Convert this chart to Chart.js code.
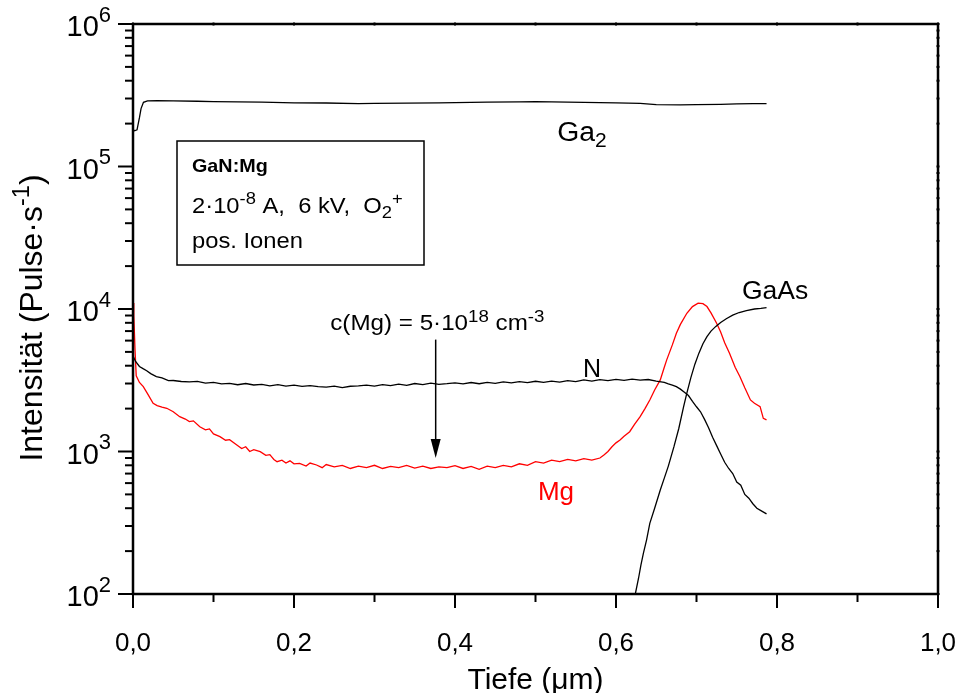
<!DOCTYPE html>
<html lang="de">
<head>
<meta charset="UTF-8" />
<title>SIMS Tiefenprofil GaN:Mg</title>
<script src="https://cdn.jsdelivr.net/npm/chart.js"></script>
<style>
  html, body { margin: 0; padding: 0; background: #fff; }
  canvas { display: block; }
</style>
</head>
<body>
<canvas id="profil" width="958" height="693"></canvas>
<script>
// Tiefe in µm, Intensität in Pulse/s
const depthGa2 = [0, 0.002, 0.005, 0.008, 0.010, 0.013, 0.018, 0.03, 0.05, 0.08, 0.10, 0.13, 0.16, 0.20, 0.24, 0.28, 0.30, 0.34, 0.38, 0.40, 0.44, 0.48, 0.50, 0.54, 0.58, 0.60, 0.63, 0.65, 0.68, 0.70, 0.73, 0.75, 0.77, 0.787];
const countsGa2 = [182000, 178000, 181000, 220000, 255000, 282000, 289000, 290000, 289000, 287000, 285000, 284000, 283000, 280000, 279000, 276000, 277000, 278000, 280000, 281000, 283000, 284000, 285000, 283000, 281000, 280000, 277000, 272000, 271000, 272000, 273000, 275000, 276000, 276000];

const depthN = [0, 0.003, 0.008, 0.013, 0.017, 0.022, 0.029, 0.036, 0.044, 0.05, 0.06, 0.07, 0.08, 0.09, 0.10, 0.11, 0.12, 0.13, 0.14, 0.15, 0.16, 0.17, 0.18, 0.19, 0.20, 0.21, 0.22, 0.23, 0.24, 0.25, 0.26, 0.27, 0.28, 0.29, 0.30, 0.31, 0.32, 0.33, 0.34, 0.35, 0.36, 0.37, 0.38, 0.39, 0.40, 0.41, 0.42, 0.43, 0.44, 0.45, 0.46, 0.47, 0.48, 0.49, 0.50, 0.51, 0.52, 0.53, 0.54, 0.55, 0.56, 0.57, 0.58, 0.59, 0.60, 0.61, 0.62, 0.63, 0.64, 0.65, 0.66, 0.665, 0.67, 0.675, 0.68, 0.685, 0.69, 0.695, 0.70, 0.705, 0.71, 0.715, 0.72, 0.725, 0.73, 0.735, 0.74, 0.745, 0.75, 0.755, 0.76, 0.765, 0.77, 0.775, 0.78, 0.787];
const countsN = [4700, 4300, 3950, 3800, 3690, 3520, 3350, 3280, 3140, 3150, 3100, 3080, 3110, 3020, 3060, 2980, 3010, 2940, 3000, 2930, 2960, 2890, 2950, 2880, 2920, 2860, 2900, 2850, 2830, 2880, 2810, 2870, 2890, 2920, 2880, 2950, 2900, 2970, 2910, 3000, 2950, 3020, 2960, 2990, 3030, 2980, 3050, 2990, 3060, 3010, 3080, 3030, 3090, 3040, 3110, 3060, 3120, 3070, 3140, 3090, 3180, 3120, 3190, 3140, 3210, 3160, 3220, 3170, 3200, 3120, 3060, 2980, 2920, 2850, 2740, 2600, 2470, 2250, 2060, 1900, 1680, 1470, 1260, 1100, 960, 840, 760, 700, 610, 580, 500, 470, 430, 400, 385, 365];

const depthMg = [0, 0.001, 0.0025, 0.004, 0.008, 0.0128, 0.018, 0.025, 0.03, 0.036, 0.042, 0.05, 0.058, 0.065, 0.07, 0.075, 0.083, 0.09, 0.095, 0.10, 0.108, 0.115, 0.12, 0.129, 0.135, 0.14, 0.145, 0.15, 0.158, 0.165, 0.17, 0.175, 0.179, 0.185, 0.19, 0.195, 0.20, 0.207, 0.215, 0.22, 0.228, 0.235, 0.24, 0.25, 0.26, 0.27, 0.28, 0.29, 0.30, 0.31, 0.32, 0.33, 0.34, 0.35, 0.36, 0.37, 0.38, 0.39, 0.40, 0.41, 0.42, 0.43, 0.44, 0.45, 0.46, 0.47, 0.48, 0.49, 0.50, 0.51, 0.52, 0.53, 0.54, 0.55, 0.56, 0.57, 0.58, 0.585, 0.59, 0.595, 0.60, 0.605, 0.61, 0.617, 0.623, 0.63, 0.636, 0.642, 0.648, 0.655, 0.66, 0.663, 0.67, 0.675, 0.68, 0.688, 0.695, 0.702, 0.708, 0.713, 0.718, 0.725, 0.73, 0.735, 0.741, 0.748, 0.754, 0.76, 0.767, 0.772, 0.779, 0.783, 0.787];
const countsMg = [11000, 9000, 5200, 3400, 3050, 2850, 2550, 2180, 2100, 2050, 2010, 1900, 1755, 1690, 1620, 1640, 1493, 1420, 1440, 1330, 1271, 1200, 1210, 1111, 1050, 1080, 1000, 1030, 998, 940, 950, 880, 848, 870, 830, 860, 820, 826, 790, 830, 804, 770, 810, 780, 800, 760, 790, 770, 800, 760, 785, 770, 800, 765, 790, 760, 780, 770, 795, 760, 785, 750, 790, 770, 800, 780, 820, 800, 850, 830, 870, 850, 880, 860, 890, 870, 900, 945, 1000, 1080, 1150, 1205, 1280, 1377, 1550, 1755, 2000, 2300, 2700, 3180, 3900, 4395, 5600, 6760, 7800, 9330, 10400, 10990, 10900, 10400, 9400, 7940, 6900, 5800, 4900, 3900, 3350, 2800, 2300, 2180, 2065, 1710, 1665];

const depthGaAs = [0.620, 0.624, 0.628, 0.631, 0.634, 0.638, 0.642, 0.648, 0.655, 0.66, 0.665, 0.672, 0.678, 0.684, 0.688, 0.693, 0.698, 0.703, 0.708, 0.713, 0.718, 0.724, 0.73, 0.737, 0.745, 0.753, 0.762, 0.772, 0.78, 0.787];
const countsGaAs = [85, 100, 129, 160, 193, 240, 313, 400, 537, 650, 790, 1081, 1450, 2065, 2570, 3300, 4100, 4900, 5700, 6400, 7000, 7550, 8050, 8550, 9050, 9450, 9750, 10000, 10100, 10230];

// Achsen
const xTicks = [0, 0.2, 0.4, 0.6, 0.8, 1.0];
const xTickLabels = ['0,0', '0,2', '0,4', '0,6', '0,8', '1,0'];
const yExponents = [2, 3, 4, 5, 6];

const FONT = '"Liberation Sans", Arial, Helvetica, sans-serif';

function pts(xs, ys) {
  return xs.map((v, i) => ({ x: v, y: ys[i] }));
}

function fontFor(p, size, ratio) {
  const s = (p.sup || p.sub) ? Math.round(size * ratio) : size;
  return (p.bold ? 'bold ' : '') + s + 'px ' + FONT;
}

// Text mit Hoch-/Tiefstellung; o.sx streckt waagerecht
function drawRich(ctx, parts, x, y, size, align, o = {}) {
  const sx = o.sx || 1, ratio = o.ratio || 0.75, raise = o.raise || 0.42;
  let w = 0;
  for (const p of parts) {
    ctx.font = fontFor(p, size, ratio);
    w += ctx.measureText(p.t).width;
  }
  w *= sx;
  const x0 = align === 'center' ? x - w / 2 : align === 'right' ? x - w : x;
  ctx.save();
  ctx.translate(x0, y);
  ctx.scale(sx, 1);
  ctx.textAlign = 'left';
  ctx.textBaseline = 'alphabetic';
  let cx = 0;
  for (const p of parts) {
    ctx.font = fontFor(p, size, ratio);
    const dy = p.sup ? -size * raise : p.sub ? size * 0.22 : 0;
    ctx.fillText(p.t, cx, dy);
    cx += ctx.measureText(p.t).width;
  }
  ctx.restore();
}

function seg(ctx, x1, y1, x2, y2) {
  ctx.beginPath();
  ctx.moveTo(x1, y1);
  ctx.lineTo(x2, y2);
  ctx.stroke();
}

const frame = {
  id: 'frame',
  afterDraw(chart) {
    const { ctx, chartArea: a, scales: { x, y } } = chart;
    ctx.save();
    ctx.strokeStyle = '#000';
    ctx.fillStyle = '#000';
    ctx.lineWidth = 2.5;
    ctx.strokeRect(a.left, a.top, a.right - a.left, a.bottom - a.top);

    // y-Striche (log)
    ctx.lineWidth = 2;
    for (const e of yExponents) {
      for (let m = 1; m <= 9; m++) {
        const v = m * Math.pow(10, e);
        if (v > 1e6) break;
        const py = y.getPixelForValue(v);
        seg(ctx, a.left - (m === 1 ? 15 : 8), py, a.left, py);
        seg(ctx, a.right - 1.5, py, a.right + 1.5, py);
      }
    }
    // x-Striche
    for (let i = 0; i <= 10; i++) {
      const px = x.getPixelForValue(i / 10);
      seg(ctx, px, a.bottom, px, a.bottom + (i % 2 === 0 ? 14 : 8));
      seg(ctx, px, a.top - 1.5, px, a.top + 1.5);
    }

    // Beschriftung der Achsen
    xTicks.forEach((v, i) => {
      drawRich(ctx, [{ t: xTickLabels[i] }], x.getPixelForValue(v), 651, 26, 'center');
    });
    yExponents.forEach(e => {
      const py = y.getPixelForValue(Math.pow(10, e));
      drawRich(ctx, [{ t: '10' }, { t: String(e), sup: true }], 111, py + 12, 29, 'right', { raise: 0.5 });
    });

    drawRich(ctx, [{ t: 'Tiefe (μm)' }], (a.left + a.right) / 2, 689, 30, 'center');
    ctx.save();
    ctx.translate(42, 318);
    ctx.rotate(-Math.PI / 2);
    drawRich(ctx, [{ t: 'Intensität (Pulse·s' }, { t: '-1', sup: true }, { t: ')' }], 0, 0, 31, 'center', { sx: 1.03 });
    ctx.restore();

    // Infokasten
    ctx.lineWidth = 1.5;
    ctx.strokeRect(177, 141, 247, 124);
    drawRich(ctx, [{ t: 'GaN:Mg', bold: true }], 192, 172, 19, 'left', { sx: 1.04 });
    drawRich(ctx, [{ t: '2·10' }, { t: '-8', sup: true }, { t: ' A,  6 kV,  O' }, { t: '2', sub: true }, { t: '+', sup: true }], 192, 213, 22, 'left', { sx: 1.08 });
    drawRich(ctx, [{ t: 'pos. Ionen' }], 192, 248, 22, 'left', { sx: 1.08 });

    // Kurvennamen
    drawRich(ctx, [{ t: 'Ga' }, { t: '2', sub: true }], x.getPixelForValue(0.527), y.getPixelForValue(1.5e5), 27, 'left', { sx: 1.05 });
    drawRich(ctx, [{ t: 'GaAs' }], x.getPixelForValue(0.7565), y.getPixelForValue(1.18e4), 26, 'left', { sx: 1.02 });
    drawRich(ctx, [{ t: 'N' }], x.getPixelForValue(0.559), y.getPixelForValue(3350), 25, 'left');
    ctx.fillStyle = '#ff0000';
    drawRich(ctx, [{ t: 'Mg' }], x.getPixelForValue(0.503), y.getPixelForValue(456), 26, 'left');
    ctx.fillStyle = '#000';
    drawRich(ctx, [{ t: 'c(Mg) = 5·10' }, { t: '18', sup: true }, { t: ' cm' }, { t: '-3', sup: true }],
      x.getPixelForValue(0.245), y.getPixelForValue(7100), 22, 'left', { sx: 1.1, raise: 0.36 });

    // Pfeil auf das Mg-Plateau
    const ax = x.getPixelForValue(0.376);
    const ay1 = y.getPixelForValue(6100);
    const ay2 = y.getPixelForValue(900);
    ctx.lineWidth = 1.5;
    seg(ctx, ax, ay1, ax, ay2 - 16);
    ctx.beginPath();
    ctx.moveTo(ax - 5, ay2 - 19);
    ctx.lineTo(ax + 5, ay2 - 19);
    ctx.lineTo(ax, ay2);
    ctx.closePath();
    ctx.fill();
    ctx.restore();
  }
};

const line = (data, color) => ({
  data, borderColor: color, borderWidth: 1.3, pointRadius: 0, tension: 0, fill: false
});

new Chart(document.getElementById('profil'), {
  type: 'line',
  data: {
    datasets: [
      line(pts(depthGa2, countsGa2), '#000'),
      line(pts(depthN, countsN), '#000'),
      line(pts(depthGaAs, countsGaAs), '#000'),
      line(pts(depthMg, countsMg), '#ff0000')
    ]
  },
  options: {
    responsive: false,
    animation: false,
    layout: { padding: { top: 24, right: 20, left: 0, bottom: 0 } },
    plugins: { legend: { display: false }, tooltip: { enabled: false } },
    scales: {
      x: {
        type: 'linear', min: 0, max: 1,
        ticks: { display: false }, grid: { display: false }, border: { display: false },
        afterFit: s => { s.height = 99; }
      },
      y: {
        type: 'logarithmic', min: 100, max: 1e6,
        ticks: { display: false }, grid: { display: false }, border: { display: false },
        afterFit: s => { s.width = 133; }
      }
    }
  },
  plugins: [frame]
});
</script>
</body>
</html>
